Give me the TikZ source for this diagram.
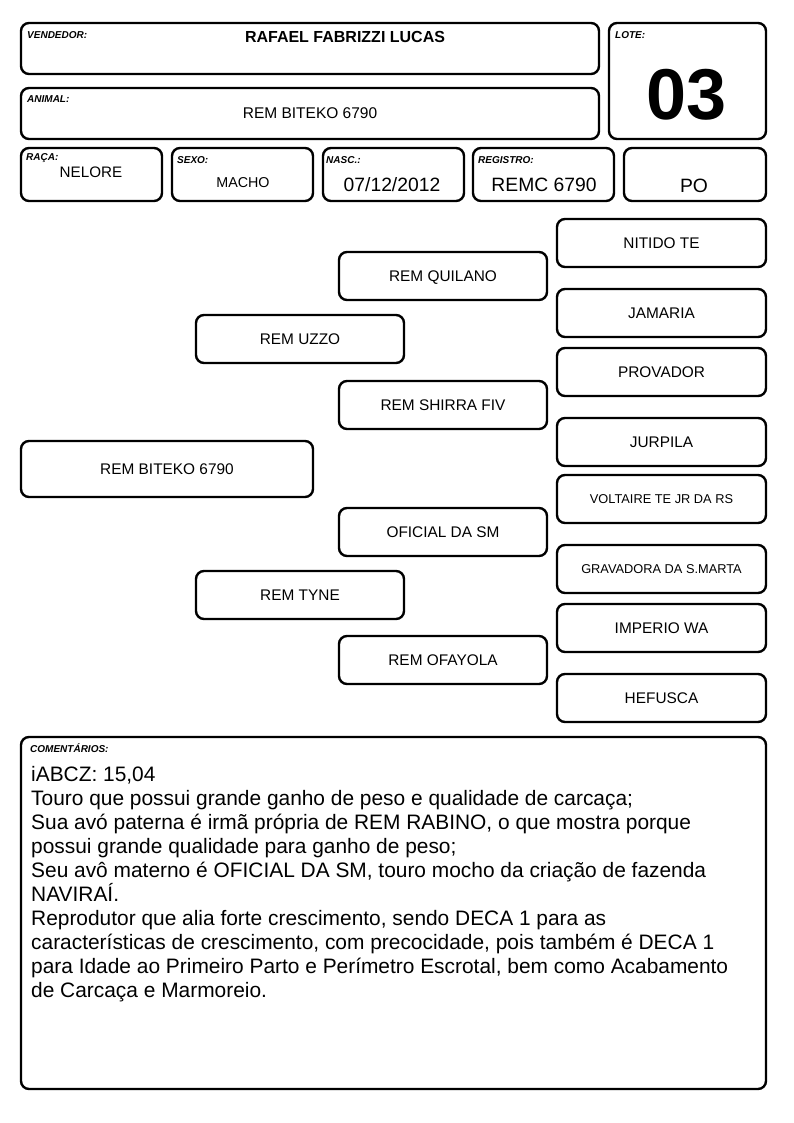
\documentclass[tikz,border=0pt]{standalone}
\usepackage{fontspec}
\setmainfont{Liberation Sans}
\begin{document}
\begin{tikzpicture}[x=1pt,y=-1pt,
  pbox/.style={draw=black,line width=2.4pt,rounded corners=8pt,inner sep=0pt},
  lab/.style={anchor=west,inner sep=0pt,font=\fontsize{10}{11}\selectfont\bfseries\itshape},
  val/.style={inner sep=0pt,text depth=0pt,font=\fontsize{15.5}{17}\selectfont},
  big/.style={inner sep=0pt,text depth=0pt,font=\fontsize{19.3}{21}\selectfont},
  ped/.style={inner sep=0pt,text depth=0pt,font=\fontsize{15.4}{17}\selectfont},
  sped/.style={inner sep=0pt,text depth=0pt,font=\fontsize{12.8}{14}\selectfont}]
\useasboundingbox (0,0) rectangle (794,1123);
% header boxes
\draw[pbox] (21,23) rectangle (599,74);
\draw[pbox] (609,23) rectangle (766,139);
\draw[pbox] (21,88) rectangle (599,139);
\draw[pbox] (21,148) rectangle (162,201);
\draw[pbox] (172,148) rectangle (313,201);
\draw[pbox] (323,148) rectangle (464,201);
\draw[pbox] (473,148) rectangle (614,201);
\draw[pbox] (624,148) rectangle (766,201);
\node[lab] (lv) at (27,35) {VENDEDOR:};
\node[val,font=\fontsize{16}{18}\selectfont\bfseries] (vv) at (345,37) {RAFAEL FABRIZZI LUCAS};
\node[lab] (ll) at (615,35) {LOTE:};
\node[inner sep=0pt,text depth=0pt,font=\fontsize{72}{76}\selectfont\bfseries] (lo) at (687,94) {03};
\node[lab] (la) at (27,99) {ANIMAL:};
\node[val] (va) at (310,113) {REM BITEKO 6790};
\node[lab] (lr) at (26,158) {RAÇA:};
\node[val,font=\fontsize{15.2}{17}\selectfont] (vr) at (91,172) {NELORE};
\node[lab] (ls) at (177,160) {SEXO:};
\node[val,font=\fontsize{14.3}{16}\selectfont] (vs) at (243,183) {MACHO};
\node[lab] (ln) at (326,160) {NASC.:};
\node[big] (vn) at (392,185) {07/12/2012};
\node[lab] (lg) at (478,160) {REGISTRO:};
\node[big] (vg) at (544,185) {REMC 6790};
\node[big] (vp) at (694,186) {PO};
% pedigree
\node[pbox,ped,minimum width=292pt,minimum height=56pt] (p0) at (167,469) {REM BITEKO 6790};
\node[pbox,ped,minimum width=208pt,minimum height=48pt] (p1) at (300,339) {REM UZZO};
\node[pbox,ped,minimum width=208pt,minimum height=48pt] (p2) at (300,595) {REM TYNE};
\node[pbox,ped,minimum width=208pt,minimum height=48pt] (p3) at (443,276) {REM QUILANO};
\node[pbox,ped,minimum width=208pt,minimum height=48pt] (p4) at (443,405) {REM SHIRRA FIV};
\node[pbox,ped,minimum width=208pt,minimum height=48pt] (p5) at (443,532) {OFICIAL DA SM};
\node[pbox,ped,minimum width=208pt,minimum height=48pt] (p6) at (443,660) {REM OFAYOLA};
\node[pbox,ped,minimum width=209pt,minimum height=48pt] (p7) at (661.5,243) {NITIDO TE};
\node[pbox,ped,minimum width=209pt,minimum height=48pt] (p8) at (661.5,313) {JAMARIA};
\node[pbox,ped,minimum width=209pt,minimum height=48pt] (p9) at (661.5,372) {PROVADOR};
\node[pbox,ped,minimum width=209pt,minimum height=48pt] (p10) at (661.5,442) {JURPILA};
\node[pbox,sped,minimum width=209pt,minimum height=48pt] (p11) at (661.5,499) {VOLTAIRE TE JR DA RS};
\node[pbox,sped,minimum width=209pt,minimum height=48pt] (p12) at (661.5,569) {GRAVADORA DA S.MARTA};
\node[pbox,ped,minimum width=209pt,minimum height=48pt] (p13) at (661.5,628) {IMPERIO WA};
\node[pbox,ped,minimum width=209pt,minimum height=48pt] (p14) at (661.5,698) {HEFUSCA};
% comments
\draw[pbox] (21,737) rectangle (766,1089);
\node[lab] (lc) at (30,748) {COMENTÁRIOS:};
\node[anchor=north west,inner sep=0pt,align=left,font=\fontsize{20.9}{24}\selectfont] (ct) at (31,766.5) {iABCZ: 15,04\\
Touro que possui grande ganho de peso e qualidade de carcaça;\\
Sua avó paterna é irmã própria de REM RABINO, o que mostra porque\\
possui grande qualidade para ganho de peso;\\
Seu avô materno é OFICIAL DA SM, touro mocho da criação de fazenda\\
NAVIRAÍ.\\
Reprodutor que alia forte crescimento, sendo DECA 1 para as\\
características de crescimento, com precocidade, pois também é DECA 1\\
para Idade ao Primeiro Parto e Perímetro Escrotal, bem como Acabamento\\
de Carcaça e Marmoreio.};
\end{tikzpicture}
\end{document}
